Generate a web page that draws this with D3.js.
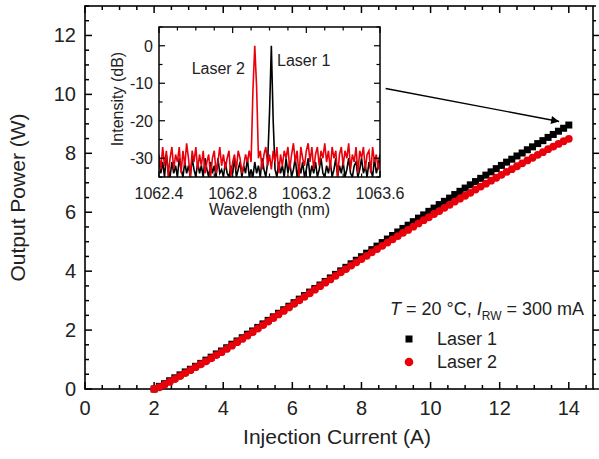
<!DOCTYPE html>
<html>
<head>
<meta charset="utf-8">
<script src="https://cdn.jsdelivr.net/npm/d3@7"></script>
<style>
  html, body { margin: 0; padding: 0; background: #fff; }
  svg { display: block; font-family: "Liberation Sans", Arial, sans-serif; }
</style>
</head>
<body>
<svg id="chart" width="599" height="459"></svg>
<script>
// ---- L-I characteristics (injection current in A, output power in W) ----
const current = d3.range(0, 81).map(i => +(2 + i * 0.15).toFixed(2));
const laser1Power = [
  0.00, 0.09, 0.18, 0.28, 0.38, 0.48, 0.58, 0.67, 0.77, 0.87,
  0.98, 1.08, 1.19, 1.29, 1.40, 1.52, 1.63, 1.74, 1.86, 1.97,
  2.09, 2.21, 2.33, 2.45, 2.57, 2.69, 2.81, 2.93, 3.05, 3.17,
  3.29, 3.41, 3.53, 3.65, 3.77, 3.89, 4.01, 4.13, 4.25, 4.37,
  4.49, 4.61, 4.73, 4.85, 4.97, 5.09, 5.21, 5.33, 5.45, 5.56,
  5.68, 5.80, 5.91, 6.03, 6.14, 6.26, 6.37, 6.48, 6.60, 6.71,
  6.82, 6.93, 7.04, 7.15, 7.26, 7.37, 7.48, 7.59, 7.70, 7.80,
  7.91, 8.01, 8.12, 8.22, 8.33, 8.43, 8.54, 8.64, 8.75, 8.85,
  8.96
];
const laser2Power = [
  0.00, 0.06, 0.15, 0.24, 0.34, 0.44, 0.54, 0.64, 0.74, 0.84,
  0.94, 1.04, 1.15, 1.25, 1.36, 1.47, 1.59, 1.70, 1.81, 1.93,
  2.05, 2.17, 2.29, 2.41, 2.53, 2.65, 2.77, 2.89, 3.01, 3.13,
  3.25, 3.37, 3.49, 3.61, 3.72, 3.84, 3.96, 4.07, 4.19, 4.30,
  4.41, 4.52, 4.64, 4.75, 4.86, 4.97, 5.08, 5.19, 5.30, 5.40,
  5.51, 5.62, 5.73, 5.83, 5.94, 6.04, 6.15, 6.25, 6.36, 6.46,
  6.56, 6.66, 6.77, 6.87, 6.97, 7.07, 7.17, 7.27, 7.37, 7.46,
  7.56, 7.66, 7.76, 7.85, 7.95, 8.04, 8.14, 8.23, 8.32, 8.41,
  8.49
];

// ---- Optical spectra (wavelength in nm, intensity in dB) ----
const wavelength = d3.range(0, 121).map(i => 1062.4 + i * 0.01);
const laser1Spectrum = [
  -30, -34, -31, -35, -29, -33, -35, -31, -34, -32,
  -35, -30, -33, -35, -31, -34, -32, -35, -30, -33,
  -35, -31, -34, -32, -35, -30, -33, -35, -31, -34,
  -32, -35, -30, -34, -33, -35, -31, -34, -35, -32,
  -34, -30, -35, -33, -31, -35, -32, -34, -30, -35,
  -33, -35, -31, -34, -32, -35, -30, -33, -35, -31,
  -18, 0, -20, -33, -35, -31, -34, -32, -35, -30,
  -34, -31, -35, -33, -30, -35, -32, -34, -31, -35,
  -33, -30, -35, -32, -34, -31, -35, -33, -30, -34,
  -35, -32, -34, -31, -35, -33, -30, -35, -32, -34,
  -31, -35, -33, -30, -34, -35, -32, -31, -35, -33,
  -30, -34, -32, -35, -31, -33, -35, -30, -34, -32, -29
];
const laser2Spectrum = [
  -29, -33, -27, -32, -28, -35, -30, -27, -33, -29,
  -31, -27, -34, -28, -32, -26, -30, -35, -28, -31,
  -27, -33, -29, -32, -28, -34, -31, -29, -35, -30,
  -28, -34, -31, -27, -32, -29, -33, -30, -28, -35,
  -31, -29, -33, -28, -30, -34, -32, -29, -31, -28,
  -31, -12, 0, -11, -30, -28, -33, -29, -27, -32,
  -29, -33, -28, -31, -27, -34, -29, -32, -28, -30,
  -27, -33, -29, -26, -31, -28, -35, -27, -30, -32,
  -28, -26, -31, -27, -33, -29, -27, -32, -28, -30,
  -26, -31, -28, -33, -27, -30, -28, -35, -29, -27,
  -32, -28, -30, -26, -33, -29, -31, -27, -34, -28,
  -30, -27, -33, -29, -28, -34, -27, -31, -29, -33, -30
];

// Axis ticks
const xMajor = [0, 2, 4, 6, 8, 10, 12, 14];
const yMajor = [0, 2, 4, 6, 8, 10, 12];
const wlMajor = [1062.4, 1062.8, 1063.2, 1063.6];
const dbMajor = [0, -10, -20, -30];

const svg = d3.select("#chart");

// ---- Main plot ----
const M = { left: 85, right: 593, top: 6, bottom: 389 };
const x = d3.scaleLinear().domain([0, 14.7]).range([M.left, M.right]);
const y = d3.scaleLinear().domain([0, 13]).range([M.bottom, M.top]);

const xMinor = d3.range(0, 14.71, 0.5).filter(v => !xMajor.some(m => Math.abs(m - v) < 1e-6));
const yMinor = d3.range(0, 13.01, 0.5).filter(v => !yMajor.some(m => Math.abs(m - v) < 1e-6));

function drawTicks(g, axis, scale, values, len, pos, dir) {
  values.forEach(v => {
    const p = scale(v);
    if (axis === "x") {
      g.append("line").attr("x1", p).attr("x2", p).attr("y1", pos).attr("y2", pos + dir * len);
    } else {
      g.append("line").attr("y1", p).attr("y2", p).attr("x1", pos).attr("x2", pos + dir * len);
    }
  });
}

svg.append("rect")
  .attr("x", M.left).attr("y", M.top)
  .attr("width", M.right - M.left).attr("height", M.bottom - M.top)
  .attr("fill", "none").attr("stroke", "#000").attr("stroke-width", 1.6);

const tk = svg.append("g").attr("stroke", "#000").attr("stroke-width", 1.5);
// bottom, top and left ticks point inward; right ticks point outward
drawTicks(tk, "x", x, xMajor, 7, M.bottom, -1);
drawTicks(tk, "x", x, xMinor, 4, M.bottom, -1);
drawTicks(tk, "x", x, xMajor, 7, M.top, 1);
drawTicks(tk, "x", x, xMinor, 4, M.top, 1);
drawTicks(tk, "y", y, yMajor, 7, M.left, 1);
drawTicks(tk, "y", y, yMinor, 4, M.left, 1);
drawTicks(tk, "y", y, yMajor, 6, M.right, 1);
drawTicks(tk, "y", y, yMinor, 3, M.right, 1);

// tick labels
svg.append("g").selectAll("text").data(xMajor).join("text")
  .attr("x", d => x(d)).attr("y", 415)
  .attr("text-anchor", "middle").attr("font-size", 20).attr("fill", "#222")
  .text(d => d);
svg.append("g").selectAll("text").data(yMajor).join("text")
  .attr("x", 76).attr("y", d => y(d) + 7)
  .attr("text-anchor", "end").attr("font-size", 20).attr("fill", "#222")
  .text(d => d);

// axis titles
svg.append("text").attr("x", (M.left + M.right) / 2 - 2).attr("y", 444)
  .attr("text-anchor", "middle").attr("font-size", 21).attr("fill", "#222")
  .text("Injection Current (A)");
svg.append("text")
  .attr("transform", `translate(25, ${(M.top + M.bottom) / 2}) rotate(-90)`)
  .attr("text-anchor", "middle").attr("font-size", 21).attr("fill", "#222")
  .text("Output Power (W)");

// data markers
const l1 = current.map((c, i) => ({ c, p: laser1Power[i] }));
const l2 = current.map((c, i) => ({ c, p: laser2Power[i] }));
const sq = 7;
svg.append("g").selectAll("rect").data(l1).join("rect")
  .attr("x", d => x(d.c) - sq / 2).attr("y", d => y(d.p) - sq / 2)
  .attr("width", sq).attr("height", sq).attr("fill", "#000");
svg.append("g").selectAll("circle").data(l2).join("circle")
  .attr("cx", d => x(d.c)).attr("cy", d => y(d.p)).attr("r", 3.9)
  .attr("fill", "#e8000b");

// arrow from the inset to the high-current end
const defs = svg.append("defs");
defs.append("marker").attr("id", "head")
  .attr("viewBox", "0 0 10 10").attr("refX", 10).attr("refY", 5)
  .attr("markerWidth", 10).attr("markerHeight", 8).attr("markerUnits", "userSpaceOnUse")
  .attr("orient", "auto")
  .append("path").attr("d", "M0,0 L10,5 L0,10 Z").attr("fill", "#000");
svg.append("line")
  .attr("x1", x(8.7)).attr("y1", y(10.2))
  .attr("x2", x(13.72)).attr("y2", y(9.08))
  .attr("stroke", "#000").attr("stroke-width", 1.3)
  .attr("marker-end", "url(#head)");

// legend
const leg = svg.append("g").attr("font-size", 18).attr("fill", "#222");
const cond = leg.append("text").attr("x", 390).attr("y", 315);
cond.append("tspan").attr("font-style", "italic").text("T");
cond.append("tspan").text(" = 20 °C, ");
cond.append("tspan").attr("font-style", "italic").text("I");
cond.append("tspan").attr("font-size", 12).attr("dy", 5).text("RW");
cond.append("tspan").attr("dy", -5).text(" = 300 mA");
leg.append("rect").attr("x", 409 - 3.5).attr("y", 339 - 3.5).attr("width", 7).attr("height", 7).attr("fill", "#000");
leg.append("text").attr("x", 437).attr("y", 345).text("Laser 1");
leg.append("circle").attr("cx", 409).attr("cy", 362).attr("r", 4.3).attr("fill", "#e8000b");
leg.append("text").attr("x", 437).attr("y", 368).text("Laser 2");

// ---- Inset spectrum ----
const I = { left: 159, right: 380, top: 27, bottom: 177 };
const xi = d3.scaleLinear().domain([1062.4, 1063.6]).range([I.left, I.right]);
const yi = d3.scaleLinear().domain([-35, 5]).range([I.bottom, I.top]);

const inset = svg.append("g");
defs.append("clipPath").attr("id", "insetClip")
  .append("rect").attr("x", I.left).attr("y", I.top)
  .attr("width", I.right - I.left).attr("height", I.bottom - I.top);

const line = d3.line().x((d, i) => xi(wavelength[i])).y(d => yi(d));
const spec = inset.append("g").attr("clip-path", "url(#insetClip)");
spec.append("path").attr("d", line(laser1Spectrum))
  .attr("fill", "none").attr("stroke", "#000").attr("stroke-width", 1.6);
spec.append("path").attr("d", line(laser2Spectrum))
  .attr("fill", "none").attr("stroke", "#e8000b").attr("stroke-width", 1.6);

inset.append("rect")
  .attr("x", I.left).attr("y", I.top)
  .attr("width", I.right - I.left).attr("height", I.bottom - I.top)
  .attr("fill", "none").attr("stroke", "#000").attr("stroke-width", 1.5);

const wlMinor = d3.range(0, 13).map(i => 1062.4 + i * 0.1)
  .filter(v => !wlMajor.some(m => Math.abs(m - v) < 1e-6));
const dbMinor = [5, -5, -15, -25, -35];
const itk = inset.append("g").attr("stroke", "#000").attr("stroke-width", 1.2);
drawTicks(itk, "x", xi, wlMajor, 6, I.bottom, -1);
drawTicks(itk, "x", xi, wlMinor, 3.5, I.bottom, -1);
drawTicks(itk, "x", xi, wlMajor, 6, I.top, 1);
drawTicks(itk, "x", xi, wlMinor, 3.5, I.top, 1);
drawTicks(itk, "y", yi, dbMajor, 6, I.left, 1);
drawTicks(itk, "y", yi, dbMinor, 3.5, I.left, 1);
drawTicks(itk, "y", yi, dbMajor, 6, I.right, -1);
drawTicks(itk, "y", yi, dbMinor, 3.5, I.right, -1);

inset.append("g").selectAll("text").data(wlMajor).join("text")
  .attr("x", d => xi(d)).attr("y", 199)
  .attr("text-anchor", "middle").attr("font-size", 16).attr("fill", "#222")
  .text(d => d.toFixed(1));
inset.append("g").selectAll("text").data(dbMajor).join("text")
  .attr("x", 153).attr("y", d => yi(d) + 6)
  .attr("text-anchor", "end").attr("font-size", 16).attr("fill", "#222")
  .text(d => d);
inset.append("text").attr("x", (I.left + I.right) / 2).attr("y", 215)
  .attr("text-anchor", "middle").attr("font-size", 16).attr("fill", "#222")
  .text("Wavelength (nm)");
inset.append("text")
  .attr("transform", `translate(123, ${(I.top + I.bottom) / 2 - 3}) rotate(-90)`)
  .attr("text-anchor", "middle").attr("font-size", 16).attr("fill", "#222")
  .text("Intensity (dB)");
inset.append("text").attr("x", 245).attr("y", 74)
  .attr("text-anchor", "end").attr("font-size", 16).attr("fill", "#222").text("Laser 2");
inset.append("text").attr("x", 277).attr("y", 66)
  .attr("font-size", 16).attr("fill", "#222").text("Laser 1");
</script>
</body>
</html>
